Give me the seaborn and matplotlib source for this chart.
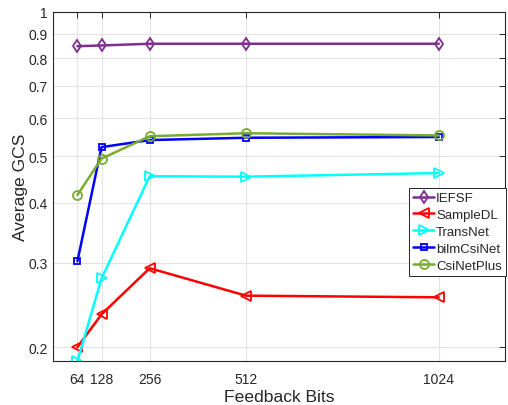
import matplotlib
matplotlib.use("Agg")
import matplotlib.pyplot as plt
import seaborn as sns
import pandas as pd
from matplotlib.ticker import FixedLocator, NullLocator, FixedFormatter

bits = [64, 128, 256, 512, 1024]
iefsf = [0.847, 0.850, 0.857, 0.857, 0.857]
sampledl = [0.200, 0.234, 0.292, 0.256, 0.254]
transnet = [0.187, 0.278, 0.454, 0.453, 0.461]
bilmcsinet = [0.302, 0.522, 0.540, 0.546, 0.548]
csinetplus = [0.415, 0.494, 0.550, 0.558, 0.552]

series = ["IEFSF", "SampleDL", "TransNet", "bilmCsiNet", "CsiNetPlus"]
values = [iefsf, sampledl, transnet, bilmcsinet, csinetplus]
colors = ["#7E2F8E", "#FF0000", "#00FFFF", "#0000FF", "#77AC30"]
markers = ["d", "<", ">", "s", "o"]

yticks = [0.2, 0.3, 0.4, 0.5, 0.6, 0.7, 0.8, 0.9, 1]
yticklabels = ["0.2", "0.3", "0.4", "0.5", "0.6", "0.7", "0.8", "0.9", "1"]

sns.set_style("white")
plt.rcParams["font.family"] = ["Liberation Sans", "DejaVu Sans"]

fig = plt.figure(figsize=(5.08, 4.06), dpi=100)
ax = fig.add_axes([0.105, 0.108, 0.889, 0.861])

df = pd.DataFrame({
    "bits": bits * len(series),
    "gcs": [v for vals in values for v in vals],
    "method": [s for s in series for _ in bits],
})

for name, col, mk in zip(series, colors, markers):
    sub = df[df["method"] == name]
    sns.lineplot(data=sub, x="bits", y="gcs", ax=ax, color=col, marker=mk,
                 markersize=6.5 if mk != "s" else 5, markerfacecolor="none",
                 markeredgecolor=col, markeredgewidth=1.3, linewidth=1.8,
                 label=name, estimator=None, sort=False)

ax.set_yscale("log")
ax.set_xlim(0, 1200)
ax.set_ylim(0.187, 1)
ax.xaxis.set_major_locator(FixedLocator(bits))
ax.set_xticklabels([str(b) for b in bits])
ax.yaxis.set_major_locator(FixedLocator(yticks))
ax.yaxis.set_major_formatter(FixedFormatter(yticklabels))
ax.yaxis.set_minor_locator(NullLocator())

ax.grid(True, color="#e3e3e3", linewidth=0.8)
ax.set_axisbelow(True)
for sp in ax.spines.values():
    sp.set_color("#262626")
    sp.set_linewidth(0.8)
ax.tick_params(direction="in", length=4, top=True, right=True,
               colors="#262626", labelsize=10, width=0.7)
ax.tick_params(axis="x", pad=8)
ax.tick_params(axis="y", pad=4)

ax.set_xlabel("Feedback Bits", fontsize=12.6, color="#262626", labelpad=2)
ax.set_ylabel("Average GCS", fontsize=12.6, color="#262626", labelpad=0)

leg = ax.legend(loc="upper left", frameon=True, fancybox=False,
                fontsize=9.5, handlelength=1.6, handletextpad=0.15,
                borderpad=0.3, labelspacing=0.35, borderaxespad=0)
leg.get_frame().set_edgecolor("#262626")
leg.get_frame().set_linewidth(0.7)
leg.get_frame().set_alpha(1)
leg.set_bbox_to_anchor((409 / 508, 1 - 189 / 406), transform=fig.transFigure)

fig.savefig("out.png", dpi=100)
